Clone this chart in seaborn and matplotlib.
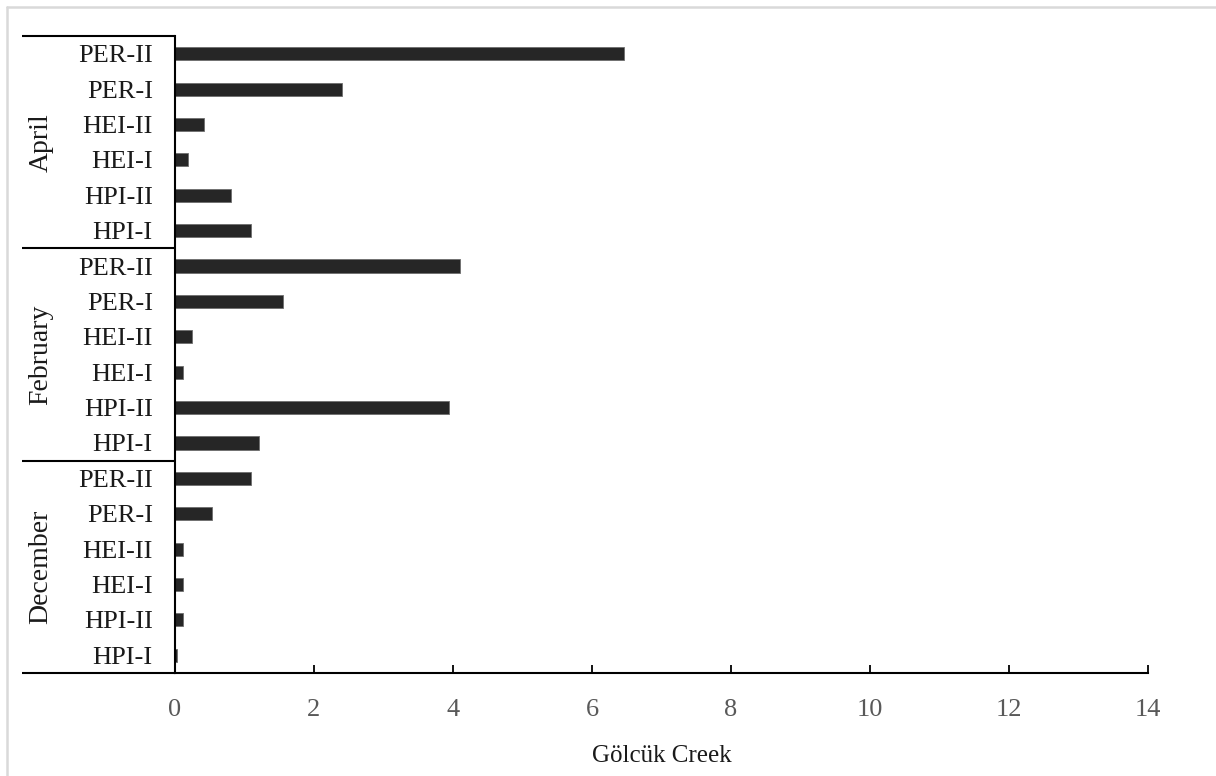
import matplotlib
matplotlib.use("Agg")
import matplotlib.pyplot as plt
import matplotlib.transforms as mtransforms
import seaborn as sns
import pandas as pd

# Sampling months (top to bottom) and index labels within each month
months = ["April", "February", "December"]
indices = ["PER-II", "PER-I", "HEI-II", "HEI-I", "HPI-II", "HPI-I"]

april = [6.46, 2.41, 0.42, 0.18, 0.81, 1.10]
february = [4.10, 1.55, 0.25, 0.11, 3.94, 1.21]
december = [1.10, 0.53, 0.12, 0.11, 0.11, 0.03]

x_ticks = [0, 2, 4, 6, 8, 10, 12, 14]
x_label = "Gölcük Creek"

values = {"April": april, "February": february, "December": december}
rows = []
for m in months:
    for idx, v in zip(indices, values[m]):
        rows.append({"key": f"{m}|{idx}", "month": m, "index": idx, "value": v})
df = pd.DataFrame(rows)

sns.set_style("white")
plt.rcParams["font.family"] = ["Liberation Serif", "DejaVu Serif"]

W, H = 1216, 776
fig = plt.figure(figsize=(W / 100, H / 100), dpi=100)
left_px, right_px, top_px, bottom_px = 175, 1148, 36, 673
ax = fig.add_axes([left_px / W, 1 - bottom_px / H,
                   (right_px - left_px) / W, (bottom_px - top_px) / H])

sns.barplot(data=df, x="value", y="key", orient="h", order=df["key"].tolist(),
            color="#262626", width=0.37, edgecolor="#6e6e6e", linewidth=0.6,
            errorbar=None, ax=ax)

ax.set_xlim(0, 14)
ax.set_ylim(len(df) - 0.5, -0.5)
ax.set_xticks(x_ticks)
ax.set_xticklabels([str(t) for t in x_ticks], color="#595959", fontsize=19)
ax.set_yticks(range(len(df)))
ax.set_yticklabels(df["index"].tolist(), fontsize=19, color="#1a1a1a")
ax.tick_params(axis="x", bottom=True, direction="in", length=6, width=1.3,
               color="#000000", pad=19)
ax.tick_params(axis="y", left=False, length=0, pad=16)
ax.set_xlabel(x_label, fontsize=18, color="#1a1a1a", labelpad=17)
ax.set_ylabel("")

for side in ["top", "right"]:
    ax.spines[side].set_visible(False)
for side in ["left", "bottom"]:
    ax.spines[side].set_color("#000000")
    ax.spines[side].set_linewidth(1.5)

# Month group separators and labels in the left margin
trans = mtransforms.blended_transform_factory(ax.transAxes, ax.transData)
x_start = (22 - left_px) / (right_px - left_px)
n = len(indices)
for g in range(len(months) + 1):
    yb = g * n - 0.5
    ax.plot([x_start, 0], [yb, yb], color="#000000", lw=1.5,
            transform=trans, clip_on=False, solid_capstyle="butt")
for g, m in enumerate(months):
    yc = g * n + (n - 1) / 2
    ax.text((41 - left_px) / (right_px - left_px), yc, m, rotation=90,
            ha="center", va="center", fontsize=20, color="#1a1a1a",
            transform=trans)

# Light chart frame
fig.add_artist(plt.Line2D([7 / W, 1], [1 - 7 / H, 1 - 7 / H],
                          color="#d9d9d9", lw=1.8, transform=fig.transFigure))
fig.add_artist(plt.Line2D([7 / W, 7 / W], [0, 1 - 7 / H],
                          color="#d9d9d9", lw=1.8, transform=fig.transFigure))

fig.savefig("out.png", dpi=100)
